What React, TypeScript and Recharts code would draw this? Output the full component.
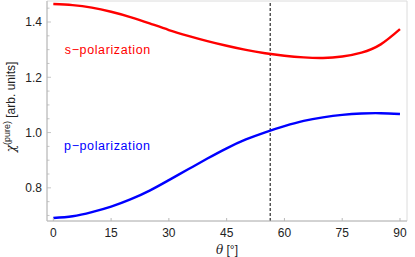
import { LineChart, Line, XAxis, YAxis, ReferenceLine, ReferenceArea, ReferenceDot } from "recharts";

// incidence angle in degrees
const theta = [0, 5, 10, 15, 20, 25, 30, 35, 40, 45, 50, 55, 60, 65, 70, 75, 80, 85, 90];
// s-polarization (red)
const sPol = [1.465, 1.461, 1.452, 1.437, 1.418, 1.395, 1.371, 1.35, 1.331, 1.314, 1.299, 1.287, 1.278, 1.272, 1.27, 1.275, 1.289, 1.319, 1.374];
// p-polarization (blue)
const pPol = [0.691, 0.697, 0.712, 0.732, 0.758, 0.79, 0.828, 0.867, 0.906, 0.943, 0.975, 1.001, 1.023, 1.042, 1.055, 1.064, 1.069, 1.07, 1.067];

const xTicks = [0, 15, 30, 45, 60, 75, 90];
const yMajor = [0.8, 1.0, 1.2, 1.4];
const yMinor = [0.7, 0.75, 0.85, 0.9, 0.95, 1.05, 1.1, 1.15, 1.25, 1.3, 1.35, 1.45];
const brewster = 56.3;

const xDomain = [-1.64, 91.82];
const yDomain = [0.68, 1.476];

const data = theta.map((t, i) => ({ theta: t, s: sPol[i], p: pPol[i] }));
const yTicks = [...yMajor, ...yMinor].sort((a, b) => a - b);

const axisGray = "#b8b8b8";

function YTick(props: any) {
  const { x, y, payload } = props;
  const ax = x + 5;
  const major = yMajor.includes(payload.value);
  return (
    <g>
      <line x1={ax} x2={ax + (major ? 4 : 2.5)} y1={y} y2={y} stroke={axisGray} strokeWidth={0.8} />
      {major && (
        <text x={x} y={y} dy="0.36em" textAnchor="end" fontSize={12} fill="#222">
          {payload.value.toFixed(1)}
        </text>
      )}
    </g>
  );
}

function XLabel(props: any) {
  const { viewBox } = props;
  const cx = viewBox.x + viewBox.width / 2;
  return (
    <text x={cx} y={viewBox.y + 33} textAnchor="middle" fontSize={12} fill="#222">
      <tspan fontFamily="DejaVu Serif, serif" fontStyle="italic">θ</tspan>
      <tspan> [°]</tspan>
    </text>
  );
}

function YLabel() {
  return (
    <text x={15} y={107} transform="rotate(-90 15 107)" textAnchor="middle" fontSize={12} fill="#222">
      <tspan fontFamily="DejaVu Serif, serif" fontStyle="italic">χ</tspan>
      <tspan fontSize={9} dy={-5}>(pure)</tspan>
      <tspan dy={5}> [arb. units]</tspan>
    </text>
  );
}

function CurveLabel(color: string, text: string) {
  return (props: any) => {
    const { viewBox } = props;
    return (
      <text x={viewBox.x} y={viewBox.y} dy="0.36em" fontSize={12.5} letterSpacing={0.6} fill={color}>
        {text}
      </text>
    );
  };
}

export default function App() {
  return (
    <div style={{ position: "absolute", left: 0, top: 0, fontFamily: "Liberation Sans, Arial, sans-serif" }}>
      <LineChart width={415} height={257} data={data} margin={{ top: 1, right: 8, left: 0, bottom: 0 }}>
        <XAxis
          dataKey="theta"
          type="number"
          domain={xDomain}
          ticks={xTicks}
          allowDataOverflow
          height={36}
          tickSize={-3}
          tickMargin={10}
          tickLine={{ stroke: axisGray }}
          axisLine={{ stroke: axisGray }}
          tick={{ fontSize: 12, fill: "#222" }}
          label={<XLabel />}
        />
        <YAxis
          type="number"
          domain={yDomain}
          ticks={yTicks}
          allowDataOverflow
          width={47}
          tickSize={0}
          tickMargin={5}
          tickLine={false}
          axisLine={{ stroke: axisGray }}
          tick={<YTick />}
          interval={0}
        />
        <ReferenceArea x1={xDomain[0]} x2={xDomain[1]} y1={yDomain[0]} y2={yDomain[1]} fill="none" stroke="#dcdcdc" />
        <ReferenceLine x={brewster} stroke="#000" strokeWidth={1} strokeDasharray="3 2" />
        <Line type="natural" dataKey="s" stroke="#ff0000" strokeWidth={2.4} dot={false} isAnimationActive={false} />
        <Line type="natural" dataKey="p" stroke="#0000ff" strokeWidth={2.4} dot={false} isAnimationActive={false} />
        <ReferenceDot x={3} y={1.302} r={0} label={CurveLabel("#ff0000", "s−polarization")} />
        <ReferenceDot x={2.8} y={0.953} r={0} label={CurveLabel("#0000ff", "p−polarization")} />
      </LineChart>
      <svg width={30} height={257} style={{ position: "absolute", left: 0, top: 0 }}>
        <YLabel />
      </svg>
    </div>
  );
}
